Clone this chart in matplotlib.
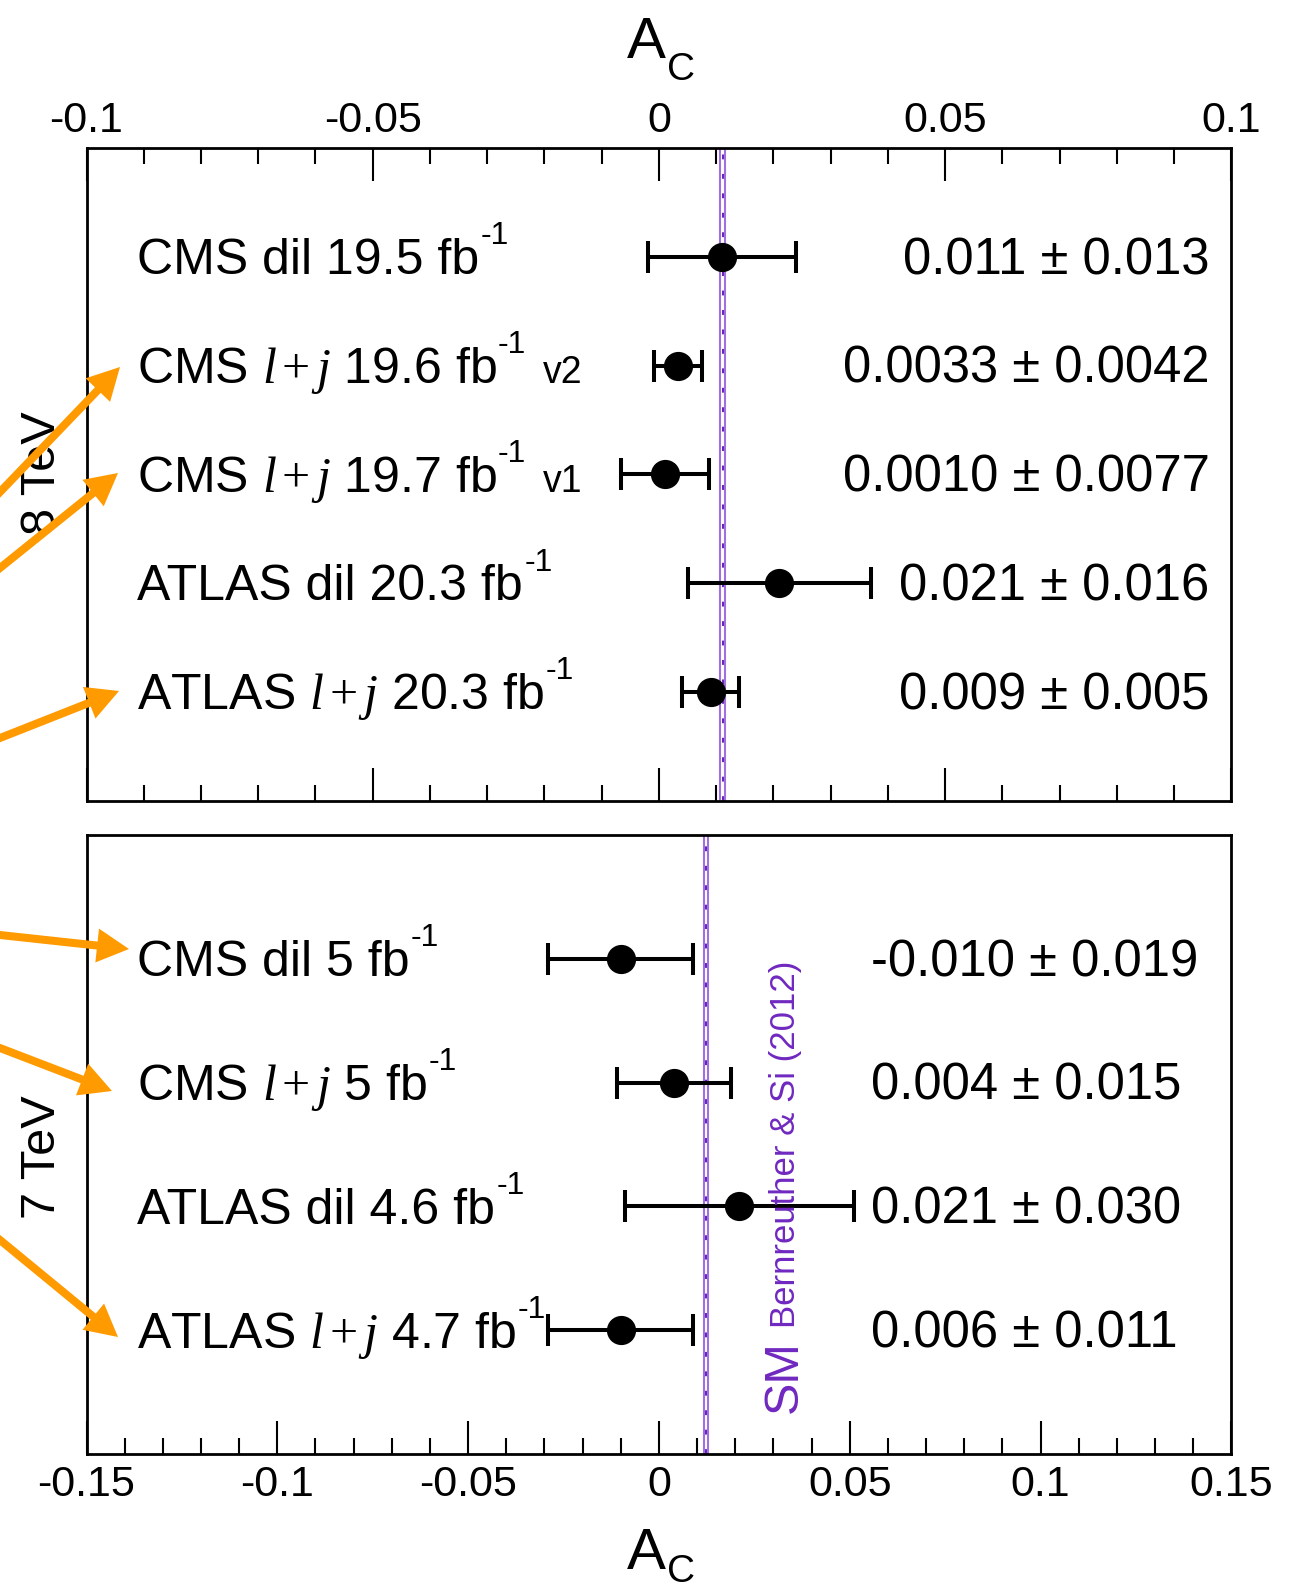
import matplotlib
matplotlib.use('Agg')
import matplotlib.pyplot as plt
from matplotlib.ticker import MultipleLocator
from matplotlib.patches import FancyArrow
from matplotlib.transforms import IdentityTransform

plt.rcParams['font.family'] = ['Liberation Sans', 'DejaVu Sans']
plt.rcParams['mathtext.fontset'] = 'custom'
plt.rcParams['mathtext.rm'] = 'Liberation Serif'
plt.rcParams['mathtext.it'] = 'Liberation Serif:italic'

# 8 TeV measurements (top panel)
top_labels = ['CMS dil 19.5 fb', r'CMS $l\,{+}\,j$ 19.6 fb', r'CMS $l\,{+}\,j$ 19.7 fb',
              'ATLAS dil 20.3 fb', r'ATLAS $l\,{+}\,j$ 20.3 fb']
top_tags = ['', 'v2', 'v1', '', '']
top_val = [0.011, 0.0033, 0.0010, 0.021, 0.009]
top_err = [0.013, 0.0042, 0.0077, 0.016, 0.005]
top_text = ['0.011 ± 0.013', '0.0033 ± 0.0042', '0.0010 ± 0.0077',
            '0.021 ± 0.016', '0.009 ± 0.005']
top_rows = [5, 4, 3, 2, 1]

# 7 TeV measurements (bottom panel), last point drawn as in the picture
bot_labels = ['CMS dil 5 fb', r'CMS $l\,{+}\,j$ 5 fb', 'ATLAS dil 4.6 fb',
              r'ATLAS $l\,{+}\,j$ 4.7 fb']
bot_val = [-0.010, 0.004, 0.021, -0.010]
bot_err = [0.019, 0.015, 0.030, 0.019]
bot_text = ['-0.010 ± 0.019', '0.004 ± 0.015', '0.021 ± 0.030', '0.006 ± 0.011']
bot_rows = [4, 3, 2, 1]

# SM prediction (Bernreuther & Si 2012)
sm8_c, sm8_e = 0.0111, 0.0004
sm7_c, sm7_e = 0.0123, 0.0005

top_ticks = [-0.1, -0.05, 0, 0.05, 0.1]
top_ticklabels = ['-0.1', '-0.05', '0', '0.05', '0.1']
bot_ticks = [-0.15, -0.1, -0.05, 0, 0.05, 0.1, 0.15]
bot_ticklabels = ['-0.15', '-0.1', '-0.05', '0', '0.05', '0.1', '0.15']

W, H = 1293, 1591
purple = '#7028C0'
band_light = '#A070E0'
band_dark = '#6620B8'
orange = '#FF9A00'

fig = plt.figure(figsize=(W / 100, H / 100), dpi=100)
ax_top = fig.add_axes([0.0669, 0.4968, 0.8855, 0.4102])
ax_bot = fig.add_axes([0.0669, 0.0861, 0.8855, 0.3891])


def band(ax, c, e):
    ax.axvline(c - e, color=band_light, lw=1.5, zorder=1)
    ax.axvline(c + e, color=band_light, lw=1.5, zorder=1)
    ax.axvline(c, color=band_dark, lw=1.4, ls=(0, (2.5, 7.5)), zorder=1)


def rows_text(ax, labels, tags, texts, rows, val_x, val_ha):
    tr = ax.get_yaxis_transform()
    for lab, tag, txt, r in zip(labels, tags, texts, rows):
        main = ax.annotate(lab, xy=(0.0441, r), xycoords=tr, xytext=(0, -12.5),
                           textcoords='offset points', ha='left', va='baseline', fontsize=36)
        sup = ax.annotate('-1', xy=(1, r), xycoords=(main, ax.transData), xytext=(1, 9),
                          textcoords='offset points', ha='left', va='baseline', fontsize=23)
        if tag:
            ax.annotate(tag, xy=(1, r), xycoords=(sup, ax.transData), xytext=(12, -12.5),
                        textcoords='offset points', ha='left', va='baseline', fontsize=27)
        ax.annotate(txt, xy=(val_x, r), xycoords=tr, xytext=(0, -12.5),
                    textcoords='offset points', ha=val_ha, va='baseline', fontsize=36.5)


def style(ax):
    for s in ax.spines.values():
        s.set_linewidth(2)
    ax.set_yticks([])
    ax.xaxis.set_minor_locator(MultipleLocator(0.01))
    ax.tick_params(axis='x', which='major', direction='in', length=24, width=1.5, labelsize=31)
    ax.tick_params(axis='x', which='minor', direction='in', length=11.5, width=1.5)


# top panel
band(ax_top, sm8_c, sm8_e)
ax_top.errorbar(top_val, top_rows, xerr=top_err, fmt='o', color='k', ms=20,
                elinewidth=2.9, capsize=11.5, capthick=2.9, zorder=3)
ax_top.set_xlim(-0.1, 0.1)
ax_top.set_ylim(0, 6)
style(ax_top)
ax_top.set_xticks(top_ticks)
ax_top.set_xticklabels(top_ticklabels)
ax_top.tick_params(axis='x', which='both', top=True, bottom=True, labeltop=True,
                   labelbottom=False, pad=5)
rows_text(ax_top, top_labels, top_tags, top_text, top_rows, 0.9808, 'right')

# bottom panel
band(ax_bot, sm7_c, sm7_e)
ax_bot.errorbar(bot_val, bot_rows, xerr=bot_err, fmt='o', color='k', ms=20,
                elinewidth=2.9, capsize=11.5, capthick=2.9, zorder=3)
ax_bot.set_xlim(-0.15, 0.15)
ax_bot.set_ylim(0, 5)
style(ax_bot)
ax_bot.set_xticks(bot_ticks)
ax_bot.set_xticklabels(bot_ticklabels)
ax_bot.tick_params(axis='x', which='both', top=False, bottom=True, pad=8)
rows_text(ax_bot, bot_labels, ['', '', '', ''], bot_text, bot_rows, 0.6848, 'left')

ax_bot.text(0.6205, 0.0662, 'SM', transform=ax_bot.transAxes, rotation=90,
            rotation_mode='anchor', ha='left', va='baseline', fontsize=35, color=purple)
ax_bot.text(0.6188, 0.2036, 'Bernreuther & Si (2012)', transform=ax_bot.transAxes,
            rotation=90, rotation_mode='anchor', ha='left', va='baseline', fontsize=25,
            color=purple)

# axis titles A_C
for base_y, drop in [(58, -16), (1569, -9)]:
    a = fig.text(646 / W, 1 - base_y / H, 'A', ha='center', va='baseline', fontsize=42)
    ax_top.annotate('C', xy=(1, 1 - base_y / H), xycoords=(a, 'figure fraction'),
                    xytext=(1, drop), textcoords='offset points', ha='left',
                    va='baseline', fontsize=28, annotation_clip=False)

# energy labels
fig.text(55 / W, 1 - 473 / H, '8 TeV', rotation=90, rotation_mode='anchor',
         ha='center', va='baseline', fontsize=35)
fig.text(55 / W, 1 - 1157 / H, '7 TeV', rotation=90, rotation_mode='anchor',
         ha='center', va='baseline', fontsize=35)

# orange arrows coming from outside (image pixels: tail, tip)
arrows = [((0, 492), (120, 367)), ((0, 568), (118, 473)), ((0, 738), (119, 691)),
          ((0, 935), (129, 949)), ((0, 1048), (112, 1091)), ((0, 1240), (118, 1337))]
for (x0, y0), (x1, y1) in arrows:
    dx, dy = x1 - x0, y1 - y0
    x0e, y0e = x0 - 0.5 * dx, y0 - 0.5 * dy
    fig.add_artist(FancyArrow(x0e, H - y0e, x1 - x0e, -(y1 - y0e), width=8,
                              head_width=34, head_length=32, length_includes_head=True,
                              color=orange, lw=0, transform=IdentityTransform(), zorder=5))

fig.savefig('out.png', dpi=100)
